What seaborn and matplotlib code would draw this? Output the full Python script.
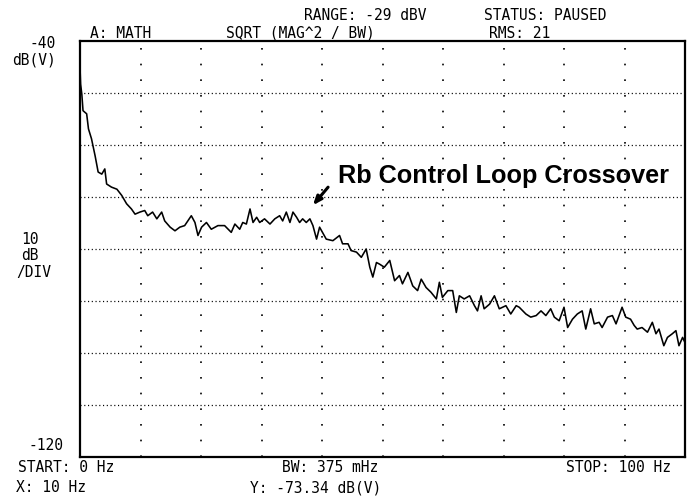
import matplotlib
matplotlib.use("Agg")
import matplotlib.pyplot as plt
import seaborn as sns
import pandas as pd

# Frequency (Hz) and level (dB(V))
freq_hz = [0.0, 0.1, 0.3, 0.5, 1.1, 1.4, 1.9, 2.5, 3.0, 3.6, 4.1, 4.4, 5.2, 6.1, 6.9, 7.7, 8.5, 9.1, 9.9,
           10.7, 11.2, 12.0, 12.7, 13.5, 14.0, 14.9, 15.7, 16.5, 17.3, 18.4, 19.0, 19.5, 20.1, 20.9, 21.7,
           22.8, 23.9, 25.0, 25.6, 26.4, 26.9, 27.5, 28.1, 28.6, 29.2, 29.7, 30.5, 31.4, 32.2, 33.0, 33.5,
           34.1, 34.7, 35.2, 35.8, 36.3, 36.8, 37.4, 38.0, 38.5, 39.1, 39.6, 40.7, 41.8, 42.9, 43.4, 44.3,
           44.8, 45.7, 46.5, 47.3, 47.9, 48.4, 49.0, 49.5, 50.3, 51.2, 52.0, 52.8, 53.3, 54.2, 55.0, 55.8,
           56.4, 57.2, 58.0, 58.9, 59.4, 59.9, 60.8, 61.6, 62.2, 62.7, 63.5, 64.4, 65.2, 65.7, 66.3, 66.8,
           67.7, 68.5, 69.3, 70.4, 71.2, 72.1, 72.6, 73.7, 74.5, 75.4, 76.2, 77.0, 77.8, 78.4, 79.2, 80.0,
           80.6, 81.4, 82.2, 83.0, 83.6, 84.4, 85.0, 85.8, 86.3, 87.2, 88.0, 88.6, 89.6, 90.2, 91.0, 91.6,
           92.1, 92.9, 93.8, 94.6, 95.2, 95.7, 96.5, 97.1, 97.9, 98.5, 99.0, 99.6, 100.0]
level_db = [-45.0, -48.3, -50.2, -53.4, -54.0, -56.9, -58.8, -62.1, -65.2, -65.6, -64.6, -67.5, -68.1, -68.5,
            -69.7, -71.3, -72.3, -73.3, -72.9, -72.6, -73.6, -72.9, -74.2, -72.9, -74.6, -75.8, -76.5, -75.8,
            -75.5, -73.6, -74.9, -77.4, -75.8, -74.9, -76.2, -75.5, -75.5, -76.8, -75.2, -76.2, -74.9, -75.2,
            -72.3, -74.9, -73.9, -74.9, -74.2, -75.2, -74.2, -73.6, -74.6, -72.9, -74.9, -72.9, -73.9, -74.9,
            -74.2, -74.9, -74.2, -75.5, -78.1, -75.8, -78.1, -78.4, -77.4, -79.0, -79.0, -80.3, -80.6, -81.6,
            -80.0, -83.5, -85.4, -82.6, -82.9, -83.5, -82.2, -86.1, -85.1, -86.7, -84.5, -87.1, -88.0, -85.8,
            -87.4, -88.3, -89.6, -86.4, -89.3, -88.0, -88.0, -92.2, -89.0, -89.6, -89.0, -90.9, -91.9, -89.0,
            -91.5, -90.6, -89.0, -91.5, -90.9, -92.5, -90.9, -91.2, -92.5, -93.1, -92.8, -91.9, -92.8, -91.5,
            -93.1, -93.8, -91.2, -95.1, -93.5, -92.5, -91.9, -95.4, -91.5, -94.4, -94.1, -95.1, -93.1, -92.8,
            -94.4, -91.2, -93.1, -93.5, -94.7, -95.4, -95.1, -96.0, -94.1, -96.3, -95.4, -98.6, -97.0, -96.3,
            -95.7, -98.6, -97.0, -98.0]

x_ticks = [0, 10, 20, 30, 40, 50, 60, 70, 80, 90, 100]
y_ticks = [-40, -50, -60, -70, -80, -90, -100, -110, -120]

header_top = ["RANGE: -29 dBV", "STATUS: PAUSED"]
header_mid = ["A: MATH", "SQRT (MAG^2 / BW)", "RMS: 21"]
footer_1 = ["START: 0 Hz", "BW: 375 mHz", "STOP: 100 Hz"]
footer_2 = ["X: 10 Hz", "Y: -73.34 dB(V)"]
annotation_text = "Rb Control Loop Crossover"

sns.set_style("white")
plt.rcParams['font.family'] = ['DejaVu Sans Mono', 'DejaVu Sans']

fig = plt.figure(figsize=(6.87, 4.97), dpi=100)
ax = fig.add_axes([80 / 687, 1 - 457 / 497, 605 / 687, 416 / 497])

df = pd.DataFrame({"freq": freq_hz, "level": level_db})
sns.lineplot(data=df, x="freq", y="level", ax=ax, color="black", linewidth=1.15, sort=False)

ax.set_xlim(0, 100)
ax.set_ylim(-120, -40)
ax.set_xticks(x_ticks)
ax.set_yticks(y_ticks)
ax.tick_params(length=0, labelbottom=False, labelleft=False)
ax.set_xlabel("")
ax.set_ylabel("")
ax.grid(False)
for v in y_ticks[1:-1]:
    ax.axhline(v, color="black", linewidth=0.9, linestyle=(0, (0.9, 2.1)), zorder=0)
for v in x_ticks[1:-1]:
    ax.axvline(v, color="black", linewidth=1.2, linestyle=(0, (1.0, 8.4)), zorder=0)
for s in ax.spines.values():
    s.set_color("black")
    s.set_linewidth(1.6)
    s.set_visible(True)

ax.annotate("", xy=(38.2, -72.0), xytext=(41.3, -67.7),
            arrowprops=dict(arrowstyle="-|>,head_length=0.5,head_width=0.2", color="black", lw=2.2))
ax.text(42.6, -67.4, annotation_text, fontsize=18.2, family="Liberation Sans",
        ha="left", va="baseline", color="black", fontweight="bold")

fs = 10.5
def ftext(px, py, s, ha="center"):
    fig.text(px / 687, 1 - py / 497, s, fontsize=fs, ha=ha, va="center", color="black")

ftext(365, 15, header_top[0])
ftext(545, 15, header_top[1])
ftext(121, 33, header_mid[0])
ftext(300, 33, header_mid[1])
ftext(520, 33, header_mid[2])
ftext(56, 44, "-40", ha="right")
ftext(34, 60, "dB(V)")
ftext(39, 240, "10", ha="right")
ftext(39, 256, "dB", ha="right")
ftext(34, 272, "/DIV")
ftext(63, 446, "-120", ha="right")
ftext(66, 468, footer_1[0])
ftext(330, 468, footer_1[1])
ftext(619, 468, footer_1[2])
ftext(51, 488, footer_2[0])
ftext(316, 488, footer_2[1])

fig.savefig("out.png", dpi=100, facecolor="white")
